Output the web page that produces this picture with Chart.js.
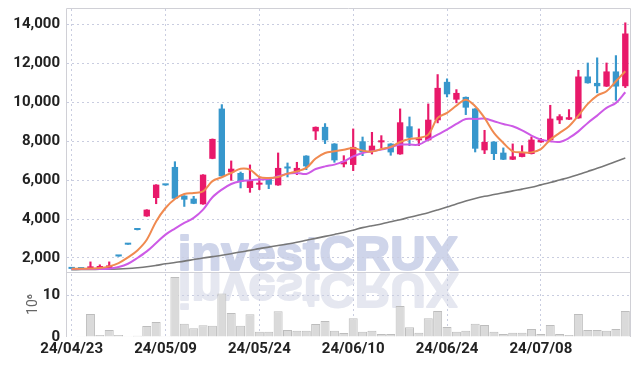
<!DOCTYPE html>
<html>
<head>
<meta charset="utf-8">
<script src="https://cdn.jsdelivr.net/npm/chart.js@4.4.1/dist/chart.umd.min.js"></script>
<style>
  html, body { margin: 0; padding: 0; background: #fff; }
  #c { display: block; }
</style>
</head>
<body>
<canvas id="c" width="639" height="366"></canvas>
<script>
// trading days
var dates = ["24/04/23","24/04/24","24/04/25","24/04/26","24/04/29","24/04/30","24/05/02","24/05/03","24/05/07","24/05/08",
  "24/05/09","24/05/10","24/05/13","24/05/14","24/05/16","24/05/17","24/05/20","24/05/21","24/05/22","24/05/23",
  "24/05/24","24/05/27","24/05/28","24/05/29","24/05/30","24/05/31","24/06/03","24/06/04","24/06/05","24/06/07",
  "24/06/10","24/06/11","24/06/12","24/06/13","24/06/14","24/06/17","24/06/18","24/06/19","24/06/20","24/06/21",
  "24/06/24","24/06/25","24/06/26","24/06/27","24/06/28","24/07/01","24/07/02","24/07/03","24/07/04","24/07/05",
  "24/07/08","24/07/09","24/07/10","24/07/11","24/07/12","24/07/15","24/07/16","24/07/17","24/07/18","24/07/19"];

var opens  = [1440,1430,1430,1485,1485,2080,2685,3440,4140,5085, 5735,6680,5205,5050,4760,7100,9680,6405,6370,5600,
  5770,6060,5735,6650,6440,7260,8510,8740,7880,6815, 6785,8000,7485,7945,7880,7330,8770,8050,8050,9080,
  11055,10140,10280,9680,7535,7980,7415,7055,7195,7345, 7945,8050,9080,9115,9180,11330,11000,10815,11590,10830];
var highs  = [1440,1430,1800,1650,1800,2080,2685,3440,4485,5770, 5735,6950,5205,5170,6285,8120,9885,6990,6420,6785,
  6130,6060,7400,6885,6920,7260,8740,8910,7880,7260, 8635,8220,8460,8290,7880,9665,9250,8635,9920,11430,
  11210,10655,10280,9680,8565,7980,7660,7865,7775,8225, 8150,9850,9370,9630,11650,12025,12290,12025,12405,14090];
var lows   = [1440,1430,1400,1470,1470,2080,2685,3440,4140,4790, 5735,5050,4650,4790,4760,7100,6200,5990,5600,5375,
  5515,5565,5735,6165,6285,6540,8085,7880,6920,6680, 6490,7260,7345,7660,7280,7330,7775,7775,8050,8945,
  10280,9975,9370,7450,7365,7055,7055,7055,7195,7345, 7945,8050,8910,9115,9180,10985,10490,10815,10105,10760];
var closes = [1440,1430,1570,1570,1620,2080,2685,3440,4485,5770, 5735,5050,5000,4790,6285,8120,6200,6590,5925,5975,
  5860,5770,6630,6600,6630,6710,8740,8050,7020,6970, 7710,7430,7775,8050,7430,8975,8185,8150,9110,10745,
  10415,10485,9730,7620,7965,7345,7055,7225,7450,8085, 8085,9165,9285,9235,11330,10985,10830,11590,10815,13540];

// volume, millions of shares
var volumes = [0.1,0.05,5.5,0.5,1.65,0.5,0.05,0.3,2.6,3.6, 0.05,14.3,3.15,2.1,2.8,2.7,10.4,5.75,2.7,5.45,
  1.25,1.25,6.15,1.65,1.5,1.5,3.1,3.8,1.5,0.95, 4.5,1.25,1.5,0.7,0.7,7.4,2.35,1.0,4.5,6.2,
  2.4,1.25,1.5,3.15,2.85,1.25,0.7,1.0,1.0,1.9, 0.7,2.85,0.7,0.45,5.5,1.65,1.65,1.5,1.9,6.2];

// moving averages
var maShort = [1445,1450,1460,1485,1570,1740,2030,2390,2940,3880, 4570,5035,5290,5345,5425,5950,6150,6370,6590,6540,
  6165,6115,6165,6335,6455,6630,7110,7400,7485,7570, 7655,7520,7470,7600,7710,7965,8120,8170,8340,9200,
  9460,9830,10140,9800,9200,8430,7915,7485,7430,7430, 7600,8085,8430,8770,9320,9920,10350,10570,11085,11600];
var maMid = [1440,1440,1440,1440,1445,1535,1705,2000,2340,2770, 3200,3510,3800,4060,4485,5120,5515,5805,5940,5990,
  6030,6060,6200,6335,6370,6320,6575,6710,6800,6970, 7225,7400,7485,7570,7690,7830,7830,7830,8085,8340,
  8600,8890,9145,9145,9165,9030,8890,8770,8565,8290, 8085,8000,7965,8170,8510,8945,9320,9715,9975,10520];
var maLong = [1400,1405,1410,1420,1425,1435,1460,1500,1550,1620, 1700,1770,1840,1920,2000,2070,2140,2220,2310,2390,
  2480,2560,2640,2720,2810,2910,3010,3110,3210,3310, 3430,3560,3660,3750,3860,3970,4090,4210,4330,4470,
  4620,4780,4930,5060,5170,5260,5350,5450,5540,5640, 5760,5880,6010,6140,6290,6450,6610,6780,6960,7140];

var priceTicks = [2000, 4000, 6000, 8000, 10000, 12000, 14000];
var volumeTicks = [0, 10];

var UP = '#e8196a', DOWN = '#3797cc';
var GRID = '#c9cde0';
var FONT = "Roboto, 'DejaVu Sans Condensed', sans-serif";

function candleColor(c) {
    var i = c.dataIndex;
    return closes[i] > opens[i] ? UP : DOWN;
}

var bodies = opens.map(function (o, i) { return [o, closes[i]]; });
var wicks = lows.map(function (l, i) { return [l, highs[i]]; });

// watermark + frame
var decor = {
    id: 'decor',
    beforeDraw: function (chart) {
        var ctx = chart.ctx, a = chart.chartArea, yv = chart.scales.yv;
        var sep = yv.top;
        ctx.save();
        ctx.font = "bold 49px 'Liberation Sans', Arial, sans-serif";
        ctx.textAlign = 'center';
        ctx.textBaseline = 'alphabetic';
        ctx.lineJoin = 'round';
        ctx.lineWidth = 2;
        ctx.fillStyle = ctx.strokeStyle = 'rgb(207,213,234)';
        ctx.fillText('investCRUX', 318, sep - 2);
        ctx.strokeText('investCRUX', 318, sep - 2);
        ctx.beginPath();
        ctx.rect(a.left, sep, a.right - a.left, yv.bottom - sep);
        ctx.clip();
        ctx.translate(0, 2 * sep);
        ctx.scale(1, -1);
        ctx.fillStyle = ctx.strokeStyle = 'rgb(229,231,240)';
        ctx.fillText('investCRUX', 318, sep - 2);
        ctx.strokeText('investCRUX', 318, sep - 2);
        ctx.restore();
    },
    beforeDatasetsDraw: function (chart) {
        var ctx = chart.ctx, a = chart.chartArea, yv = chart.scales.yv;
        ctx.save();
        ctx.strokeStyle = '#d0d0d6';
        ctx.lineWidth = 1;
        ctx.beginPath();
        ctx.moveTo(a.left - 0.5, a.bottom);
        ctx.lineTo(a.left - 0.5, a.top - 0.5);
        ctx.lineTo(a.right + 0.5, a.top - 0.5);
        ctx.lineTo(a.right + 0.5, a.bottom);
        ctx.moveTo(a.left, Math.round(yv.top) + 0.5);
        ctx.lineTo(a.right, Math.round(yv.top) + 0.5);
        ctx.stroke();
        ctx.restore();
        ctx.letterSpacing = '-1px';   // tighter tick labels, drawn after this hook
    }
};

var tickFont = { family: FONT, size: 15, weight: 'bold' };

function fixY(s) {
    s.width = 67;
    s.paddingTop = 0;
    s.paddingBottom = 0;
}

var ctx = document.getElementById('c').getContext('2d');
var chart = new Chart(ctx, {
    data: {
        labels: dates,
        datasets: [
            { type: 'line', label: 'MA short', data: maShort, yAxisID: 'y', borderColor: '#f08a50', borderWidth: 2,
              pointRadius: 0, tension: 0.35, order: 1 },
            { type: 'line', label: 'MA mid', data: maMid, yAxisID: 'y', borderColor: '#cd5ae6', borderWidth: 2,
              pointRadius: 0, tension: 0.35, order: 2 },
            { type: 'line', label: 'MA long', data: maLong, yAxisID: 'y', borderColor: '#777777', borderWidth: 1.6,
              pointRadius: 0, tension: 0.35, order: 3 },
            { type: 'bar', label: 'body', data: bodies, yAxisID: 'y', backgroundColor: candleColor,
              barPercentage: 0.68, categoryPercentage: 1, minBarLength: 2, grouped: false, order: 4 },
            { type: 'bar', label: 'wick', data: wicks, yAxisID: 'y', backgroundColor: candleColor,
              barThickness: 1.5, grouped: false, order: 5 },
            { type: 'bar', label: 'volume', data: volumes, yAxisID: 'yv', backgroundColor: '#dadada',
              borderColor: '#bdbdbd', borderWidth: 1, barPercentage: 0.96, categoryPercentage: 1,
              grouped: false, order: 6 }
        ]
    },
    options: {
        responsive: false,
        animation: false,
        events: [],
        layout: { padding: { top: 9, right: 9, bottom: 0, left: 0 } },
        plugins: { legend: { display: false }, tooltip: { enabled: false } },
        scales: {
            x: {
                type: 'category',
                offset: true,
                afterFit: function (s) { s.height = 29; },
                grid: {
                    offset: false,
                    drawTicks: false,
                    color: function (c) { return c.index % 10 === 0 ? GRID : 'rgba(0,0,0,0)'; }
                },
                border: { display: false, dash: [2, 3] },
                ticks: {
                    autoSkip: false, maxRotation: 0, padding: 3, color: '#222', font: tickFont,
                    callback: function (v, i) { return i % 10 === 0 ? dates[i] : ''; }
                }
            },
            y: {
                type: 'linear', position: 'left', stack: 'panels', stackWeight: 263, weight: 1,
                min: 1280, max: 14800,
                afterBuildTicks: function (s) { s.ticks = priceTicks.map(function (v) { return { value: v }; }); },
                afterFit: fixY,
                grid: { drawTicks: false, color: GRID },
                border: { display: false, dash: [2, 3] },
                ticks: { padding: 7, color: '#222', font: tickFont,
                    callback: function (v) { return v.toLocaleString('en-US'); } }
            },
            yv: {
                type: 'linear', position: 'left', stack: 'panels', stackWeight: 65, weight: 0,
                min: 0, max: 15.5,
                afterBuildTicks: function (s) { s.ticks = volumeTicks.map(function (v) { return { value: v }; }); },
                afterFit: fixY,
                grid: { drawTicks: false, color: function (c) { return c.tick && c.tick.value === 0 ? 'rgba(0,0,0,0)' : GRID; } },
                border: { display: false, dash: [2, 3] },
                title: { display: true, text: '10\u2076', color: '#666', font: { family: FONT, size: 14 },
                    padding: { top: 25, bottom: 0 } },
                ticks: { padding: 7, color: '#222', font: tickFont }
            }
        }
    },
    plugins: [decor]
});
</script>
</body>
</html>
